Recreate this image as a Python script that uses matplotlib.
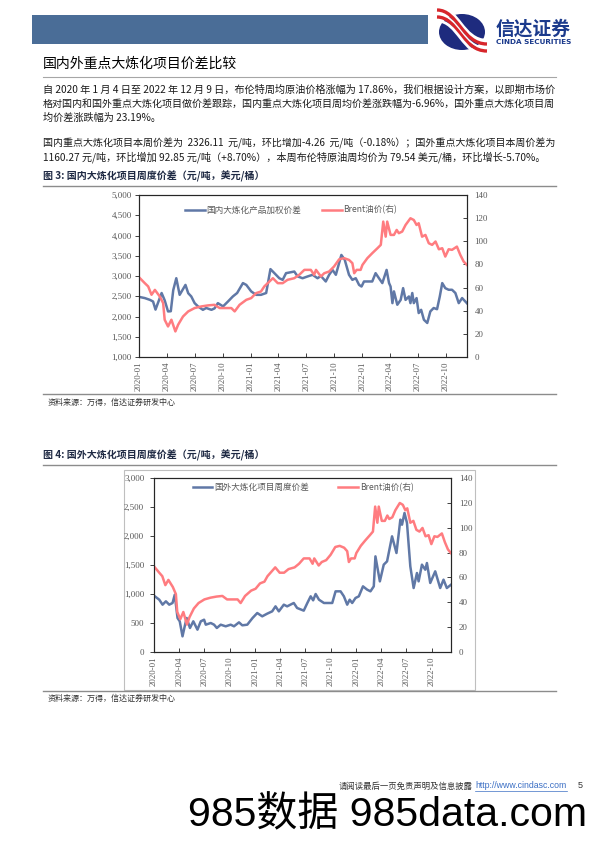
import matplotlib
matplotlib.use('Agg')
import matplotlib.pyplot as plt
import pandas as pd
from matplotlib.patches import Rectangle, Ellipse, PathPatch
from matplotlib.path import Path

plt.rcParams['font.family'] = ['Noto Sans CJK SC', 'DejaVu Sans']

# ---------------- 数据 ----------------
# 国内大炼化产品加权价差 (元/吨)
dom_dates = ['2020-01-04', '2020-01-20', '2020-02-06', '2020-02-16', '2020-02-24', '2020-03-15',
             '2020-03-25', '2020-04-05', '2020-04-14', '2020-04-22', '2020-05-02', '2020-05-13',
             '2020-06-01', '2020-06-10', '2020-06-20', '2020-07-01', '2020-07-12', '2020-07-28',
             '2020-08-08', '2020-08-25', '2020-09-04', '2020-09-15', '2020-10-02', '2020-10-18',
             '2020-11-03', '2020-11-17', '2020-12-06', '2020-12-17', '2021-01-02', '2021-01-18',
             '2021-02-03', '2021-02-20', '2021-03-06', '2021-03-19', '2021-04-04', '2021-04-15',
             '2021-04-26', '2021-05-23', '2021-06-03', '2021-06-19', '2021-07-06', '2021-07-22',
             '2021-08-07', '2021-08-18', '2021-09-03', '2021-09-14', '2021-09-25', '2021-10-06',
             '2021-10-24', '2021-11-04', '2021-11-18', '2021-11-29', '2021-12-10', '2021-12-21',
             '2021-12-29', '2022-01-06', '2022-01-23', '2022-02-02', '2022-02-13', '2022-02-24',
             '2022-03-07', '2022-03-21', '2022-03-29', '2022-04-03', '2022-04-09', '2022-04-14',
             '2022-04-25', '2022-05-06', '2022-05-14', '2022-05-22', '2022-06-02', '2022-06-07',
             '2022-06-13', '2022-06-18', '2022-06-27', '2022-07-04', '2022-07-12', '2022-07-21',
             '2022-08-01', '2022-08-11', '2022-08-22', '2022-09-02', '2022-09-11', '2022-09-19',
             '2022-09-29', '2022-10-10', '2022-10-21', '2022-11-01', '2022-11-12', '2022-11-23',
             '2022-12-09']
dom_spread = [2480, 2455, 2410, 2370, 2170, 2580, 2400, 2125, 2130, 2650, 2945, 2535,
              2780, 2575, 2495, 2330, 2250, 2165, 2210, 2165, 2200, 2330, 2250, 2370,
              2495, 2580, 2825, 2780, 2620, 2535, 2535, 2580, 3170, 3070, 2945, 2905,
              3070, 3110, 2990, 2945, 2990, 3030, 2945, 3000, 2865, 3030, 3150, 3030,
              3520, 3400, 3030, 2905, 2945, 2780, 2740, 2865, 2865, 2865, 3070, 2945,
              2825, 3150, 2825, 2740, 2330, 2620, 2290, 2410, 2700, 2410, 2495, 2330,
              2580, 2330, 2455, 2085, 2165, 1920, 1840, 2125, 2210, 2180, 2495, 2825,
              2700, 2660, 2660, 2580, 2330, 2455, 2326]

# 国外大炼化项目周度价差 (元/吨)
for_dates = ['2020-01-04', '2020-01-20', '2020-02-01', '2020-02-13', '2020-02-25', '2020-03-08',
             '2020-03-16', '2020-03-26', '2020-04-03', '2020-04-13', '2020-04-21', '2020-04-28',
             '2020-05-10', '2020-05-22', '2020-06-06', '2020-06-18', '2020-06-30', '2020-07-06',
             '2020-07-24', '2020-08-05', '2020-08-15', '2020-08-29', '2020-09-16', '2020-10-04',
             '2020-10-16', '2020-11-03', '2020-11-15', '2020-12-03', '2020-12-22', '2021-01-08',
             '2021-01-26', '2021-02-13', '2021-03-03', '2021-03-15', '2021-03-27', '2021-04-14',
             '2021-04-26', '2021-05-20', '2021-06-01', '2021-06-25', '2021-07-08', '2021-07-20',
             '2021-07-29', '2021-08-07', '2021-08-19', '2021-09-06', '2021-09-24', '2021-10-06',
             '2021-10-18', '2021-11-05', '2021-11-17', '2021-11-29', '2021-12-08', '2021-12-17',
             '2021-12-29', '2022-01-10', '2022-01-25', '2022-02-09', '2022-02-21', '2022-03-05',
             '2022-03-11', '2022-03-27', '2022-04-10', '2022-04-22', '2022-05-10', '2022-05-26',
             '2022-06-09', '2022-06-15', '2022-06-24', '2022-07-03', '2022-07-15', '2022-07-27',
             '2022-08-08', '2022-08-14', '2022-08-26', '2022-09-07', '2022-09-13', '2022-09-25',
             '2022-10-13', '2022-10-31', '2022-11-12', '2022-11-24', '2022-12-09']
for_spread = [960, 902, 816, 874, 816, 845, 988, 586, 529, 270, 443, 586,
              414, 529, 385, 529, 557, 471, 500, 471, 414, 471, 443, 471,
              443, 511, 460, 471, 586, 672, 615, 661, 701, 787, 701, 816,
              787, 845, 759, 713, 845, 960, 891, 1000, 902, 845, 845, 845,
              1046, 1046, 960, 816, 902, 845, 931, 960, 1132, 1075, 1046, 1132,
              1649, 1218, 1506, 1563, 1994, 1707, 2282, 2195, 2397, 2224, 1477, 1103,
              1362, 1218, 1506, 1419, 1534, 1190, 1391, 1103, 1247, 1103, 1160]

# Brent油价 (美元/桶)
brent_dates = ['2020-01-04', '2020-01-20', '2020-01-31', '2020-02-11', '2020-02-22', '2020-03-09',
               '2020-03-20', '2020-03-25', '2020-04-05', '2020-04-16', '2020-04-29', '2020-05-08',
               '2020-05-24', '2020-06-10', '2020-07-01', '2020-07-23', '2020-08-14', '2020-09-04',
               '2020-09-21', '2020-10-12', '2020-10-29', '2020-11-09', '2020-11-25', '2020-12-17',
               '2021-01-02', '2021-01-18', '2021-02-03', '2021-02-14', '2021-03-03', '2021-03-14',
               '2021-03-30', '2021-04-15', '2021-05-01', '2021-05-23', '2021-06-08', '2021-06-25',
               '2021-07-16', '2021-07-27', '2021-08-02', '2021-08-18', '2021-08-29', '2021-09-14',
               '2021-09-30', '2021-10-17', '2021-11-02', '2021-11-18', '2021-11-29', '2021-12-05',
               '2021-12-13', '2021-12-26', '2022-01-01', '2022-01-17', '2022-02-02', '2022-02-19',
               '2022-03-02', '2022-03-10', '2022-03-18', '2022-03-23', '2022-04-03', '2022-04-14',
               '2022-04-23', '2022-04-30', '2022-05-11', '2022-05-22', '2022-06-07', '2022-06-18',
               '2022-06-27', '2022-07-04', '2022-07-15', '2022-07-26', '2022-08-06', '2022-08-17',
               '2022-08-28', '2022-09-08', '2022-09-19', '2022-09-29', '2022-10-10', '2022-10-21',
               '2022-11-06', '2022-11-17', '2022-11-28', '2022-12-09']
brent = [68.1, 63.8, 61.0, 53.8, 58.0, 52.3, 46.6, 32.2, 26.4, 32.2, 22.1, 27.9,
         35.0, 39.4, 42.3, 43.7, 44.6, 45.1, 42.3, 42.3, 42.3, 39.4, 45.1, 49.4,
         50.9, 55.2, 56.6, 61.0, 65.3, 68.1, 63.8, 63.8, 66.7, 68.1, 71.0, 75.3,
         75.3, 71.0, 75.3, 69.6, 72.4, 73.9, 78.2, 84.5, 85.4, 83.9, 81.1, 72.4,
         75.3, 75.3, 79.6, 85.4, 89.7, 94.0, 96.9, 117.0, 104.0, 117.0, 105.5, 105.5,
         109.8, 107.0, 108.4, 114.1, 119.9, 118.4, 114.1, 115.6, 104.0, 105.5, 98.3, 96.9,
         99.8, 93.1, 94.0, 86.8, 93.1, 92.6, 95.4, 88.3, 82.5, 79.54]

left1_ticks = [1000, 1500, 2000, 2500, 3000, 3500, 4000, 4500, 5000]
left2_ticks = [0, 500, 1000, 1500, 2000, 2500, 3000]
right_ticks = [0, 20, 40, 60, 80, 100, 120, 140]

BLUE = '#6078A6'
RED = '#FF7C80'
TXT = '#595959'
W, H = 596, 842

fig = plt.figure(figsize=(W / 100, H / 100), dpi=100)
bg = fig.add_axes([0, 0, 1, 1], zorder=0)
bg.set_xlim(0, W)
bg.set_ylim(H, 0)
bg.axis('off')


def rect_px(x0, y0, x1, y1):
    return [x0 / W, 1 - y1 / H, (x1 - x0) / W, (y1 - y0) / H]


# ---------------- 页眉 ----------------
bg.add_patch(Rectangle((32, 15), 396, 29, color='#4A6D97', lw=0))
bg.add_patch(Ellipse((462, 32), 46, 36, color='#1E2B7E', lw=0))
for off, c, lw in [(-7, 'white', 3.0), (-4, '#D7262B', 2.4), (0, 'white', 1.6),
                   (3, '#D7262B', 2.4), (7, 'white', 2.0)]:
    verts = [(437, 14 + off), (458, 14 + off), (462, 48 + off), (487, 48 + off)]
    bg.add_patch(PathPatch(Path(verts, [Path.MOVETO, Path.CURVE4, Path.CURVE4, Path.CURVE4]),
                           fc='none', ec=c, lw=lw, capstyle='butt'))
bg.text(496, 29, '信达证券', fontsize=13.5, fontweight='bold', color='#1B3A8C', va='center')
bg.text(496, 42.5, 'CINDA SECURITIES', fontsize=5.2, fontweight='bold', color='#1B3A8C',
        va='center', family='DejaVu Sans')

# ---------------- 标题与正文 ----------------
bg.text(43, 64, '国内外重点大炼化项目价差比较', fontsize=10, va='center')
bg.plot([43, 556], [77, 77], color='#A6A6A6', lw=0.8)

body = [
    (90, '自 2020 年 1 月 4 日至 2022 年 12 月 9 日，布伦特周均原油价格涨幅为 17.86%，我们根据设计方案，以即期市场价', True),
    (104, '格对国内和国外重点大炼化项目做价差跟踪，国内重点大炼化项目周均价差涨跌幅为-6.96%，国外重点大炼化项目周', True),
    (118, '均价差涨跌幅为 23.19%。', False),
    (143, '国内重点大炼化项目本周价差为  2326.11  元/吨，环比增加-4.26  元/吨（-0.18%）；国外重点大炼化项目本周价差为', True),
    (157, '1160.27 元/吨，环比增加 92.85 元/吨（+8.70%），本周布伦特原油周均价为 79.54 美元/桶，环比增长-5.70%。', False),
]
renderer = fig.canvas.get_renderer()
for y, s, full in body:
    t = bg.text(43, y, s, fontsize=7.3, va='center', color='#1A1A1A')
    if full:
        w = t.get_window_extent(renderer).width
        t.set_fontsize(7.3 * 513 / w)

# ---------------- 图表 ----------------
def chart(y_cap, num, cap, rect, dates, vals, yticks, label, leg_xy, colsp, lpad, rpad):
    bg.text(43, y_cap, f'图 {num}: {cap}', fontsize=7.2, fontweight='bold', color='#1F2A44', va='center')
    bg.plot([43, 556], [y_cap + 10, y_cap + 10], color='#8C8C8C', lw=1.0)

    ax = fig.add_axes(rect, zorder=2)
    ax.plot(pd.to_datetime(dates), vals, color=BLUE, lw=1.8, label=label)
    ax.set_ylim(yticks[0], yticks[-1])
    ax.set_yticks(yticks)
    ax.set_yticklabels([f'{v:,}' for v in yticks], fontfamily='Liberation Serif',
                       fontsize=6.5, color=TXT)
    xt = pd.date_range('2020-01-01', '2022-10-01', freq='QS')
    ax.set_xlim(pd.Timestamp('2020-01-01'), pd.Timestamp('2022-12-09'))
    ax.set_xticks(xt)
    ax.set_xticklabels([d.strftime('%Y-%m') for d in xt], rotation=90,
                       fontfamily='Liberation Serif', fontsize=6.3, color=TXT)
    ax.tick_params(axis='y', direction='out', length=3, pad=lpad, color='#404040', width=0.7)
    ax.tick_params(axis='x', direction='in', length=3, pad=3, color='#404040', width=0.7)

    ax2 = ax.twinx()
    ax2.plot(pd.to_datetime(brent_dates), brent, color=RED, lw=1.8, label='Brent油价(右)')
    ax2.set_ylim(0, 140)
    ax2.set_yticks(right_ticks)
    ax2.set_yticklabels([str(v) for v in right_ticks], fontfamily='Liberation Serif',
                        fontsize=6.5, color=TXT)
    ax2.tick_params(axis='y', direction='in', length=3, pad=rpad, color='#404040', width=0.7)
    for a in (ax, ax2):
        for sp in a.spines.values():
            sp.set_color('#262626')
            sp.set_linewidth(0.8)

    h1, l1 = ax.get_legend_handles_labels()
    h2, l2 = ax2.get_legend_handles_labels()
    leg = ax2.legend(h1 + h2, l1 + l2, loc='upper left', bbox_to_anchor=leg_xy, ncol=2,
                     frameon=False, fontsize=6.2, handlelength=2.3, handletextpad=0.2,
                     columnspacing=colsp, borderpad=0, borderaxespad=0)
    for t in leg.get_texts():
        t.set_color(TXT)
    return ax


chart(176, 3, '国内大炼化项目周度价差（元/吨，美元/桶）', rect_px(139, 195, 467, 357),
      dom_dates, dom_spread, left1_ticks, '国内大炼化产品加权价差', (0.14, 0.935), 2.4, 2.3, 5.5)
bg.plot([43, 556], [394, 394], color='#8C8C8C', lw=1.0)
bg.text(48, 402, '资料来源：万得，信达证券研发中心', fontsize=5.8, style='italic', color='#333333', va='center')

bg.add_patch(Rectangle((124, 470), 351, 220, fc='none', ec='#BFBFBF', lw=0.8))
chart(455, 4, '国外大炼化项目周度价差（元/吨，美元/桶）', rect_px(154, 478, 451, 652),
      for_dates, for_spread, left2_ticks, '国外大炼化项目周度价差', (0.13, 0.97), 3.4, 4, 5.8)
bg.plot([43, 556], [691, 691], color='#8C8C8C', lw=1.0)
bg.text(48, 698, '资料来源：万得，信达证券研发中心', fontsize=5.8, style='italic', color='#333333', va='center')

# ---------------- 页脚 ----------------
bg.text(473, 786, '请阅读最后一页免责声明及信息披露', fontsize=6, ha='right', va='center', color='#333333')
bg.text(475, 786, 'http://www.cindasc.com', fontsize=6.3, va='center', color='#3B6FC4',
        family='Liberation Sans')
bg.plot([475, 567], [790.5, 790.5], color='#3B6FC4', lw=0.5)
bg.text(578, 786, '5', fontsize=6.5, va='center', color='#333333', family='Liberation Sans')
bg.text(188, 815, '985数据 985data.com', fontsize=29.5, va='center', color='black',
        family=['Liberation Sans', 'Noto Sans CJK SC'])

fig.savefig('out.png', dpi=100)
